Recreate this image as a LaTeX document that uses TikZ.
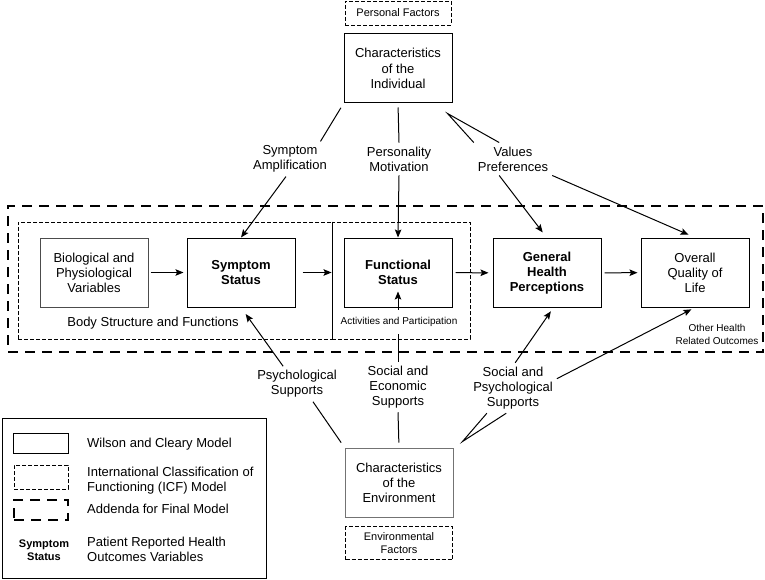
\documentclass[tikz,border=0pt]{standalone}
\usepackage{fontspec}
\setmainfont{Liberation Sans}
\usepackage{tikz}
\usetikzlibrary{arrows.meta,positioning,calc}

\begin{document}
\begin{tikzpicture}[x=1pt, y=-1pt,
  box/.style={draw, line width=1pt, minimum width=108pt, minimum height=69pt,
              align=center, inner sep=2pt, font=\fontsize{13}{15.5}\selectfont},
  wcbox/.style={box, font=\fontsize{13}{15}\selectfont\bfseries},
  icf/.style={draw, line width=0.9pt, dash pattern=on 4pt off 2pt, align=center},
  addenda/.style={draw, line width=2.6pt, dash pattern=on 10pt off 7pt},
  factor/.style={align=center, inner sep=4pt, font=\fontsize{13}{15}\selectfont},
  note/.style={align=center, inner sep=1pt, font=\fontsize{10}{13}\selectfont},
  legtext/.style={anchor=west, align=left, inner sep=0pt, font=\fontsize{13}{15}\selectfont},
  link/.style={line width=1pt},
  arr/.style={link, -{Stealth[length=8pt, width=6.5pt, inset=1.5pt]}},
  node distance=8pt
]
\useasboundingbox (0,0) rectangle (765,580);

% frames
\node[addenda, minimum width=755pt, minimum height=146pt] (addf) at (385.5,279) {};
\node[icf, minimum width=314pt, minimum height=117pt] (bsf) at (175,280.5) {};
\node[icf, minimum width=138pt, minimum height=117pt] (apf) at (401,280.5) {};
\draw[line width=0.9pt] (bsf.north east) -- (bsf.south east);

% boxes
\node[icf, font=\fontsize{11}{13}\selectfont, minimum width=106pt, minimum height=24pt] (pf) at (398,13) {Personal Factors};
\node[box] (indiv) at (398,68.5) {Characteristics\\of the\\Individual};
\node[box, draw=black!70, font=\fontsize{13}{15}\selectfont] (bio) at (94,272.5) {Biological and\\Physiological\\Variables};
\node[wcbox] (sym) at (241,272.5) {Symptom\\Status};
\node[wcbox] (func) at (398,272.5) {Functional\\Status};
\node[wcbox] (ghp) at (547,273) {General\\Health\\Perceptions};
\node[box, font=\fontsize{13}{15}\selectfont] (oqol) at (695,272.5) {Overall\\Quality of\\Life};
\node[box, draw=black!55, line width=0.9pt, font=\fontsize{13}{15}\selectfont] (env) at (399,482.5) {Characteristics\\of the\\Environment};
\node[icf, font=\fontsize{11}{13}\selectfont, minimum width=107pt, minimum height=33pt, below=of env, yshift=-1pt] (ef) {Environmental\\Factors};

% factors
\node[factor] (amp) at (290,159) {Symptom\\Amplification};
\node[factor] (pers) at (399,159) {Personality\\Motivation};
\node[factor] (val) at (513,159) {Values\\Preferences};
\node[factor] (psy) at (297,384) {Psychological\\Supports};
\node[factor] (soc) at (398,387) {Social and\\Economic\\Supports};
\node[factor] (sps) at (513,388) {Social and\\Psychological\\Supports};

\coordinate (vp) at ([shift={(-5,10)}]indiv.south east);
\coordinate (ep) at ([shift={(9,-6)}]env.north east);

% connectors
\draw[link, shorten <=5pt] (indiv.south west) -- (amp.30);
\draw[arr] (amp.257) -- (sym.north);
\draw[link, shorten <=4pt] (indiv.south) -- (pers.north);
\draw[arr] (pers.south) -- (func.north);
\draw[link] (val.north west) -- (vp) -- (val.130);
\draw[arr, shorten >=7pt] (val.230) -- (ghp.north);
\draw[arr, shorten >=7pt] (val.south east) -- (oqol.north);

\draw[arr, shorten <=2pt, shorten >=3pt] (bio) -- (sym);
\draw[arr, shorten <=7pt] (sym.east) -- (sym.east -| apf.west);
\draw[arr, shorten <=3pt, shorten >=4pt] (func) -- (ghp);
\draw[arr, shorten <=3pt, shorten >=3pt] (ghp) -- (oqol);

\draw[link, shorten <=6pt] (env.north west) -- (psy.-48);
\draw[arr, shorten >=8pt] (psy.128) -- (sym.south);
\draw[link, shorten <=5pt] (env.north) -- (soc.south);
\draw[arr, shorten >=19pt] (soc.north) -- (func.center);
\draw[link] (sps.224) -- (ep) -- (sps.255);
\draw[arr, shorten >=4pt] (sps.85) -- (ghp.-80);
\draw[arr, shorten >=4pt] (sps.12) -- (oqol.south);

% frame labels
\node[factor, inner sep=1pt] (bsfl) at (153,323) {Body Structure and Functions};
\node[note, fill=white, minimum height=24pt] (apfl) at (399,322) {Activities and Participation};
\node[note] (ohrl) at (717,334) {Other Health\\Related Outcomes};

% legend
\node[draw, line width=1pt, minimum width=264pt, minimum height=160pt] (legend) at (134,498) {};
\node[draw, line width=1pt, minimum width=55pt, minimum height=20pt] (lgwc) at (40.5,443) {};
\node[icf, minimum width=54pt, minimum height=24pt] (lgicf) at (41,477) {};
\node[addenda, minimum width=54pt, minimum height=20pt] (lgadd) at (41,510) {};
\node[align=center, inner sep=0pt, font=\fontsize{11}{12.5}\selectfont\bfseries] (lgvar) at (44,550) {Symptom\\Status};
\node[legtext] (twc) at (87,444) {Wilson and Cleary Model};
\node[legtext] (ticf) at (87,480.5) {International Classification of\\Functioning (ICF) Model};
\node[legtext] (tadd) at (87,509) {Addenda for Final Model};
\node[legtext] (tvar) at (87,549) {Patient Reported Health\\Outcomes Variables};
\end{tikzpicture}
\end{document}
